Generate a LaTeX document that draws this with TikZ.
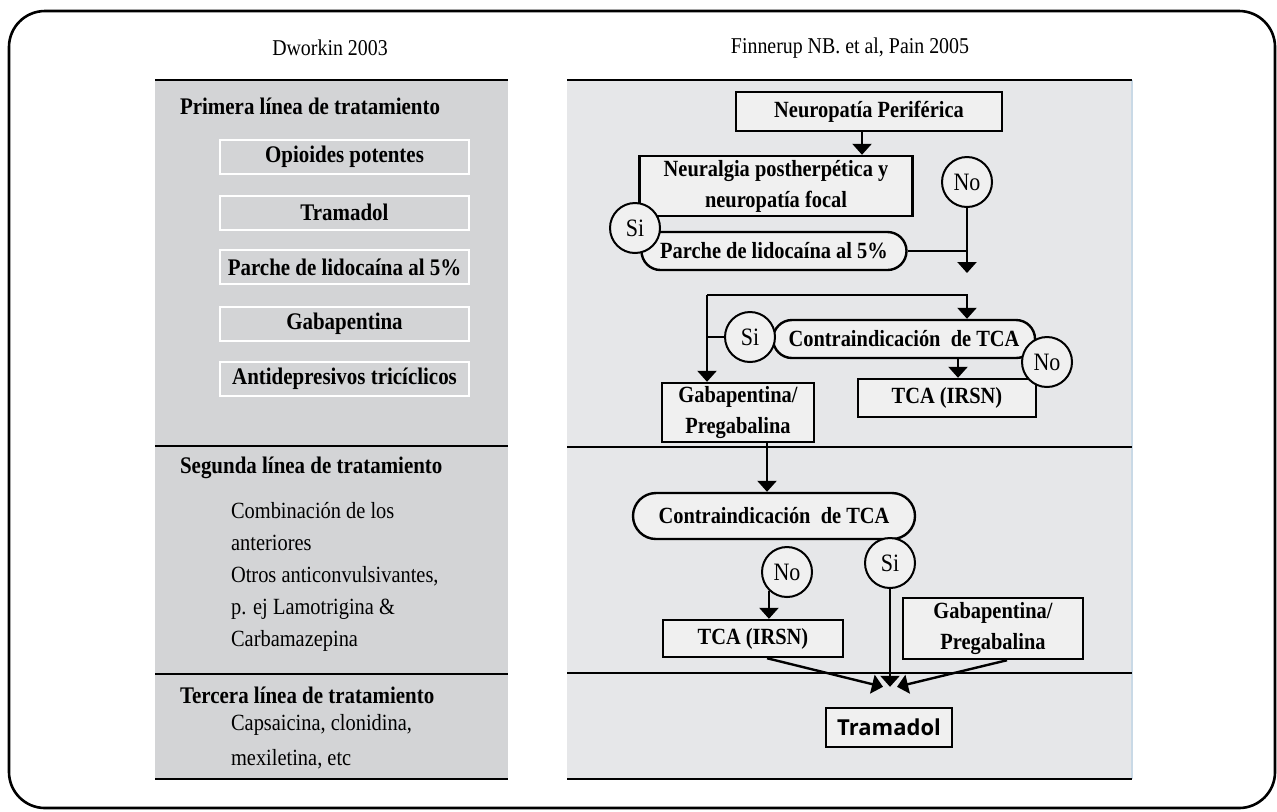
\documentclass[tikz,border=0pt]{standalone}
\usepackage{fontspec}
\setmainfont{Liberation Serif}[FakeStretch=0.88]
\newfontfamily\tramfont{Open Sans}
\usetikzlibrary{shapes.misc,arrows.meta}
\definecolor{leftgray}{HTML}{D3D4D6}
\definecolor{rightgray}{HTML}{E6E7E9}
\definecolor{boxgray}{HTML}{F0F0F0}
\definecolor{edgeblue}{HTML}{C9D9E6}

\begin{document}
\begin{tikzpicture}[x=0.5pt,y=-0.5pt,
  every node/.style={font=\fontsize{11.3}{13}\selectfont},
  flowbox/.style={draw,line width=1.2pt,fill=boxgray,inner sep=0pt,align=center,
    font=\fontsize{11.6}{15.5}\selectfont\bfseries},
  pill/.style={flowbox,rounded rectangle},
  answer/.style={circle,draw,line width=1pt,fill=boxgray,minimum size=25pt,inner sep=0pt,
    font=\fontsize{12.5}{14}\selectfont},
  listbox/.style={draw=white,line width=1pt,minimum width=124.5pt,minimum height=17pt,
    inner sep=0pt,font=\fontsize{11.9}{13}\selectfont\bfseries},
  heading/.style={anchor=west,font=\fontsize{11.9}{13}\selectfont\bfseries},
  arr/.style={-{Triangle[width=9.5pt,length=5.5pt]},line width=1.2pt},
  rule/.style={line width=1.3pt}]
  \useasboundingbox (0,0) rectangle (1277,811);

  \draw[line width=1.3pt,rounded corners=18pt] (9,11) rectangle (1275,808);

  % panels
  \fill[leftgray] (155,80) rectangle (508,779);
  \fill[rightgray] (567,80) rectangle (1132,779);
  \draw[edgeblue,line width=1.2pt] (1132,80) -- (1132,779);
  \draw[rule] (155,80) -- (508,80) (155,446) -- (508,446) (155,674) -- (508,674) (155,779) -- (508,779);
  \draw[rule] (567,80) -- (1132,80) (567,447) -- (1132,447) (567,673) -- (1132,673) (567,779) -- (1132,779);

  \node (DW) at (330,48) {Dworkin 2003};
  \node (FN) at (850,48) {Finnerup NB. et al, Pain 2005};

  % left column
  \node[heading] (H1) at (173,106) {Primera línea de tratamiento};
  \node[listbox] (L1) at (344.5,156.5) {Opioides potentes};
  \node[listbox] (L2) at (344.5,212.5) {Tramadol};
  \node[listbox] (L3) at (344.5,267) {Parche de lidocaína al 5\%};
  \node[listbox] (L4) at (344.5,324) {Gabapentina};
  \node[listbox] (L5) at (344.5,379) {Antidepresivos tricíclicos};
  \node[heading] (H2) at (173,468) {Segunda línea de tratamiento};
  \node[anchor=west,align=left,font=\fontsize{11.6}{16}\selectfont] (S2) at (224,577)
    {Combinación de los\\anteriores\\Otros anticonvulsivantes,\\p. ej Lamotrigina \&\\Carbamazepina};
  \node[heading] (H3) at (173,695) {Tercera línea de tratamiento};
  \node[anchor=west,align=left,font=\fontsize{11.6}{17.5}\selectfont] (S3) at (224,742)
    {Capsaicina, clonidina,\\mexiletina, etc};

  % right column
  \node[flowbox,minimum width=133pt,minimum height=19.5pt] (NP) at (869,111.5) {Neuropatía Periférica};
  \node[flowbox,minimum width=136.5pt,minimum height=30pt] (NPH) at (776,186) {Neuralgia postherpética y\\neuropatía focal};
  \node[pill,minimum width=132.5pt,minimum height=19pt] (LID) at (774,251) {Parche de lidocaína al 5\%};
  \node[pill,minimum width=131pt,minimum height=19pt] (CTCA1) at (904,339) {Contraindicación\ \ de TCA};
  \node[flowbox,minimum width=89pt,minimum height=19pt] (TCA1) at (947,398) {TCA (IRSN)};
  \node[flowbox,minimum width=76pt,minimum height=29.5pt] (GP1) at (738,412.5) {Gabapentina/\\Pregabalina};
  \node[pill,minimum width=141pt,minimum height=23pt] (CTCA2) at (774,516) {Contraindicación\ \ de TCA};
  \node[flowbox,minimum width=90pt,minimum height=18.5pt] (TCA2) at (753,638.5) {TCA (IRSN)};
  \node[flowbox,minimum width=90pt,minimum height=30.5pt] (GP2) at (993,628.5) {Gabapentina/\\Pregabalina};
  \node[flowbox,minimum width=63pt,minimum height=19.5pt,
    font=\fontsize{11}{13}\selectfont\tramfont\bfseries] (Tram) at (889,727.5) {Tramadol};

  \node[answer] (No1) at (967,182) {No};
  \node[answer] (Si1) at (635,228) {Si};
  \node[answer] (Si2) at (750,337) {Si};
  \node[answer] (No2) at (1047,362) {No};
  \node[answer] (No3) at (787,572) {No};
  \node[answer] (Si3) at (890,563) {Si};

  \coordinate (J1) at (967,273);
  \coordinate (T1) at (707,295);
  \coordinate (T2) at (967,295);
  \coordinate (M) at ([yshift=10pt]Tram.north);

  \draw[arr] ([xshift=-3.5pt]NP.south) -- ([xshift=-3.5pt]NP.south |- NPH.north);
  \draw[arr] (No1.south) -- (J1);
  \draw[line width=1.2pt] (LID.east) -- (LID.east -| No1.south);
  \draw[arr] (T1) -- (T2) -- (T2 |- CTCA1.north);
  \draw[arr] (T1) -- (T1 |- GP1.north);
  \draw[line width=1.2pt] (Si2.west) -- (Si2.west -| T1);
  \draw[arr] ([xshift=5.5pt]TCA1.north |- CTCA1.south) -- ([xshift=5.5pt]TCA1.north);
  \draw[arr] ([xshift=14.5pt]GP1.south) -- ([xshift=14.5pt]GP1.south |- CTCA2.north);
  \draw[arr] (No3.226) -- (No3.226 |- TCA2.north);
  \draw[arr] (Si3.south) -- (Si3.south |- M);
  \draw[arr] ([xshift=7pt]TCA2.south) -- ([xshift=-3pt]M);
  \draw[arr] ([xshift=7pt]GP2.south) -- ([xshift=4pt]M);
\end{tikzpicture}
\end{document}
